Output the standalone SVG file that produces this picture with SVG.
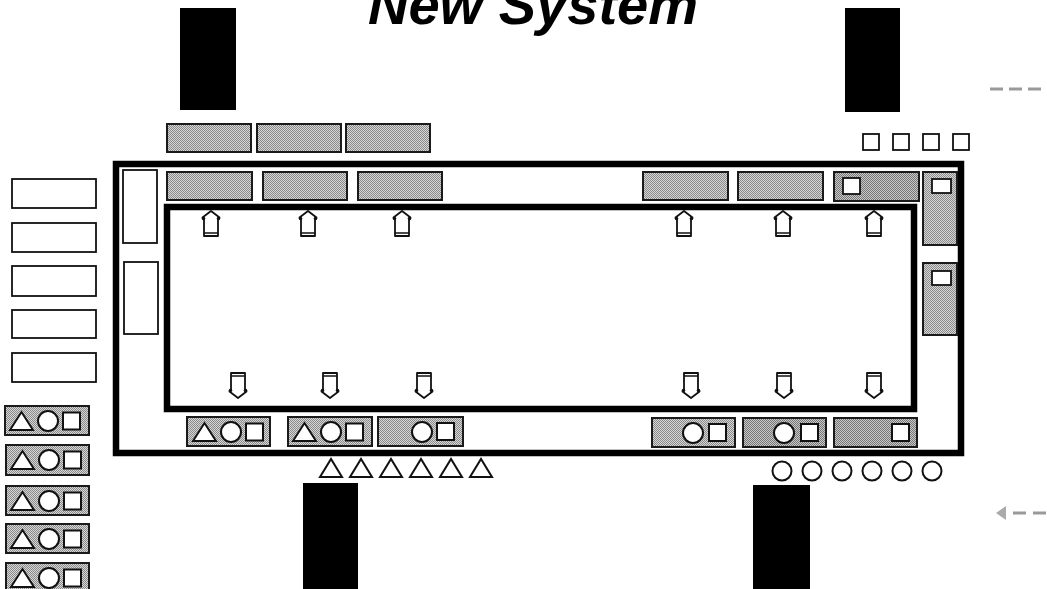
<svg xmlns="http://www.w3.org/2000/svg" xmlns:xlink="http://www.w3.org/1999/xlink" width="1047" height="589" viewBox="0 0 1047 589">
<style>
.blk{fill:#000}
.frame{fill:none;stroke:#000;stroke-width:6.5}
.g{fill:url(#dither);stroke:#1a1a1a;stroke-width:2}
.gd{fill:url(#ditherD);stroke:#1a1a1a;stroke-width:2}
.w{fill:#fff;stroke:#111;stroke-width:1.8}
.sym{fill:#fff;stroke:#111;stroke-width:2}
.arr{fill:#fff;stroke:#111;stroke-width:1.8;stroke-linejoin:round}
.dash{fill:none;stroke:#999;stroke-width:3}
.title{font-family:"Liberation Sans",Arial,sans-serif;font-weight:bold;font-style:italic;font-size:56px;fill:#000}
</style>
<defs>
<pattern id="dither" width="2" height="2" patternUnits="userSpaceOnUse">
<rect width="2" height="2" fill="#d6d6d6"/><rect width="1" height="1" fill="#8a8a8a"/><rect x="1" y="1" width="1" height="1" fill="#8a8a8a"/>
</pattern>
<pattern id="ditherD" width="2" height="2" patternUnits="userSpaceOnUse">
<rect width="2" height="2" fill="#c8c8c8"/><rect width="1" height="1" fill="#777"/><rect x="1" y="1" width="1" height="1" fill="#777"/>
</pattern>
<g id="up">
<path class="arr" d="M0,0 L8.5,6.5 L7,8.5 L7,25 L-7,25 L-7,8.5 L-8.5,6.5 Z"/>
<path d="M-7,22 L7,22" stroke="#111" stroke-width="1.5"/>
<circle cx="-7.5" cy="7.5" r="1.8" fill="#111"/><circle cx="7.5" cy="7.5" r="1.8" fill="#111"/>
</g>
<g id="down">
<path class="arr" d="M0,25 L8.5,18.5 L7,16.5 L7,0 L-7,0 L-7,16.5 L-8.5,18.5 Z"/>
<path d="M-7,3 L7,3" stroke="#111" stroke-width="1.5"/>
<circle cx="-7.5" cy="17.5" r="1.8" fill="#111"/><circle cx="7.5" cy="17.5" r="1.8" fill="#111"/>
</g>
<g id="tri"><path class="sym" d="M0,18 L11,0 L22,18 Z"/></g>
<g id="toc">
<path class="sym" d="M5,24 L16.5,6 L28,24 Z"/>
<circle class="sym" cx="43" cy="15" r="10"/>
<rect class="sym" x="58" y="6.5" width="17" height="17"/>
</g>
</defs>

<text class="title" x="533" y="24" text-anchor="middle">New System</text>

<g id="black-blocks">
<rect class="blk" x="180" y="8" width="56" height="102"/>
<rect class="blk" x="845" y="8" width="55" height="104"/>
<rect class="blk" x="303" y="483" width="55" height="106"/>
<rect class="blk" x="753" y="485" width="57" height="104"/>
</g>

<g id="top-outer-boxes">
<rect class="g" x="167" y="124" width="84" height="28"/>
<rect class="g" x="257" y="124" width="84" height="28"/>
<rect class="g" x="346" y="124" width="84" height="28"/>
</g>

<g id="top-squares">
<rect class="w" x="863" y="134" width="16" height="16"/>
<rect class="w" x="893" y="134" width="16" height="16"/>
<rect class="w" x="923" y="134" width="16" height="16"/>
<rect class="w" x="953" y="134" width="16" height="16"/>
</g>

<g id="outer-frame"><rect class="frame" x="116" y="164" width="845" height="289"/></g>
<g id="inner-frame"><rect class="frame" x="167" y="207" width="747" height="202"/></g>

<g id="top-row">
<rect class="g" x="167" y="172" width="85" height="28"/>
<rect class="g" x="263" y="172" width="84" height="28"/>
<rect class="g" x="358" y="172" width="84" height="28"/>
<rect class="g" x="643" y="172" width="85" height="28"/>
<rect class="g" x="738" y="172" width="85" height="28"/>
<g id="top-row-6"><rect class="gd" x="834" y="172" width="85" height="29"/><rect class="w" x="843" y="178" width="17" height="16"/></g>
</g>

<g id="right-column">
<g id="right-1"><rect class="g" x="923" y="172" width="34" height="73"/><rect class="w" x="932" y="179" width="19" height="14"/></g>
<g id="right-2"><rect class="g" x="923" y="263" width="34" height="72"/><rect class="w" x="932" y="271" width="19" height="14"/></g>
</g>

<g id="left-inner">
<rect class="w" x="123" y="170" width="34" height="73"/>
<rect class="w" x="124" y="262" width="34" height="72"/>
</g>

<g id="left-outer-boxes">
<rect class="w" x="12" y="179" width="84" height="29"/>
<rect class="w" x="12" y="223" width="84" height="29"/>
<rect class="w" x="12" y="266" width="84" height="30"/>
<rect class="w" x="12" y="310" width="84" height="28"/>
<rect class="w" x="12" y="353" width="84" height="29"/>
</g>

<g id="left-symbol-boxes">
<g><rect class="g" x="5" y="406" width="84" height="29"/><use xlink:href="#toc" x="5" y="406"/></g>
<g><rect class="g" x="6" y="445" width="83" height="30"/><use xlink:href="#toc" x="6" y="445"/></g>
<g><rect class="g" x="6" y="486" width="83" height="29"/><use xlink:href="#toc" x="6" y="486"/></g>
<g><rect class="g" x="6" y="524" width="83" height="29"/><use xlink:href="#toc" x="6" y="524"/></g>
<g><rect class="g" x="6" y="563" width="83" height="30"/><use xlink:href="#toc" x="6" y="563"/></g>
</g>

<g id="bottom-row">
<g id="b1"><rect class="g" x="187" y="417" width="83" height="29"/><use xlink:href="#toc" x="188" y="417"/></g>
<g id="b2"><rect class="g" x="288" y="417" width="84" height="29"/><use xlink:href="#toc" x="288" y="417"/></g>
<g id="b3"><rect class="g" x="378" y="417" width="85" height="29"/><circle class="sym" cx="422" cy="432" r="10"/><rect class="sym" x="437" y="423" width="17" height="17"/></g>
<g id="b4"><rect class="g" x="652" y="418" width="83" height="29"/><circle class="sym" cx="693" cy="433" r="10"/><rect class="sym" x="709" y="424" width="17" height="17"/></g>
<g id="b5"><rect class="gd" x="743" y="418" width="83" height="29"/><circle class="sym" cx="784" cy="433" r="10"/><rect class="sym" x="801" y="424" width="17" height="17"/></g>
<g id="b6"><rect class="gd" x="834" y="418" width="83" height="29"/><rect class="sym" x="892" y="424" width="17" height="17"/></g>
</g>

<g id="triangles">
<use xlink:href="#tri" x="320" y="459"/>
<use xlink:href="#tri" x="350" y="459"/>
<use xlink:href="#tri" x="380" y="459"/>
<use xlink:href="#tri" x="410" y="459"/>
<use xlink:href="#tri" x="440" y="459"/>
<use xlink:href="#tri" x="470" y="459"/>
</g>

<g id="circles">
<circle class="sym" cx="782" cy="471" r="9.5"/>
<circle class="sym" cx="812" cy="471" r="9.5"/>
<circle class="sym" cx="842" cy="471" r="9.5"/>
<circle class="sym" cx="872" cy="471" r="9.5"/>
<circle class="sym" cx="902" cy="471" r="9.5"/>
<circle class="sym" cx="932" cy="471" r="9.5"/>
</g>

<g id="connectors">
<use xlink:href="#up" x="211" y="211"/>
<use xlink:href="#up" x="308" y="211"/>
<use xlink:href="#up" x="402" y="211"/>
<use xlink:href="#up" x="684" y="211"/>
<use xlink:href="#up" x="783" y="211"/>
<use xlink:href="#up" x="874" y="211"/>
<use xlink:href="#down" x="238" y="373"/>
<use xlink:href="#down" x="330" y="373"/>
<use xlink:href="#down" x="424" y="373"/>
<use xlink:href="#down" x="691" y="373"/>
<use xlink:href="#down" x="784" y="373"/>
<use xlink:href="#down" x="874" y="373"/>
<path class="dash" d="M990,89 L1047,89" stroke-dasharray="13 6"/>
<path class="dash" d="M1013,513 L1047,513" stroke-dasharray="13 7"/>
<path d="M996,513 L1006,506 L1006,520 Z" fill="#aaa"/>
</g>
</svg>
